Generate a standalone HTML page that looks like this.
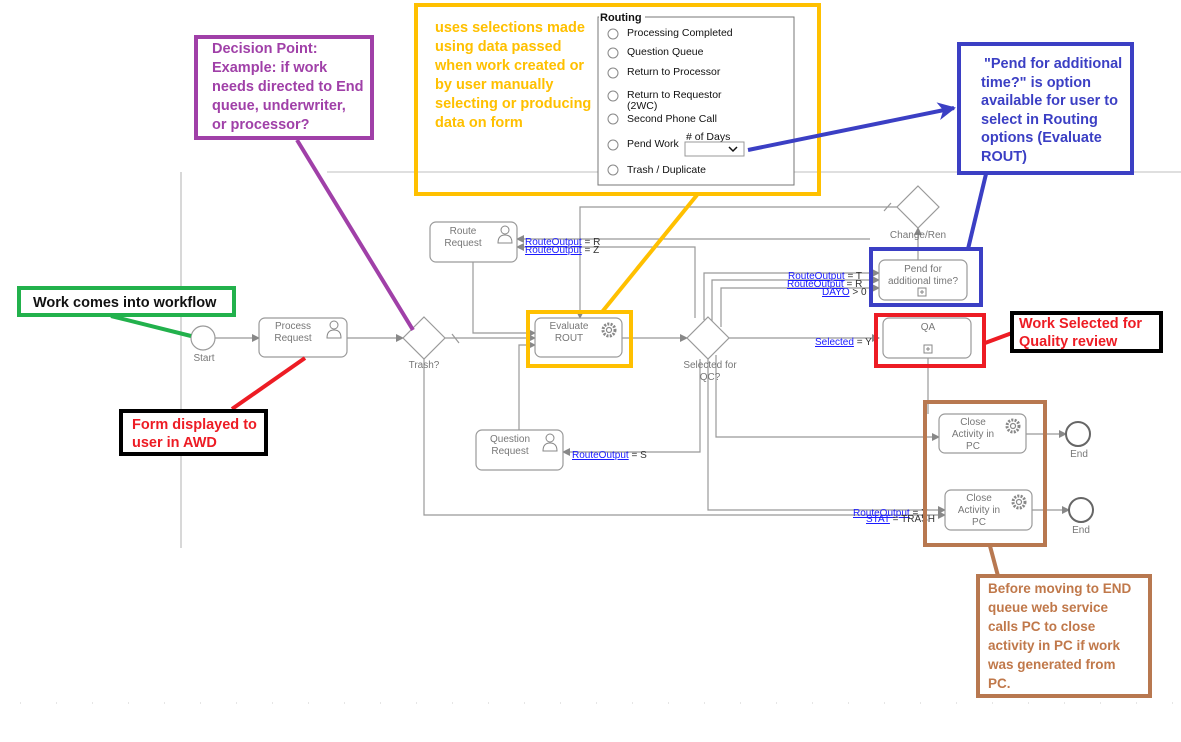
<!DOCTYPE html>
<html><head><meta charset="utf-8"><style>
html,body{margin:0;padding:0;background:#fff;}
svg{display:block;font-family:"Liberation Sans",sans-serif;}
.n{fill:#fff;stroke:#9a9a9a;stroke-width:1.2}
.c{fill:none;stroke:#999;stroke-width:1.2}
.t{font-size:10px;fill:#777;text-anchor:middle}
.lk{font-size:10px;fill:#1a1aff;text-decoration:underline}
.lb{font-size:10px;fill:#333}
.a{font-weight:bold;font-size:14.5px}
.b{font-weight:bold;font-size:13.5px}
.r{font-size:10.5px;fill:#111}
.rc{fill:#fff;stroke:#777;stroke-width:1}
</style></head><body>
<svg width="1181" height="742" viewBox="0 0 1181 742">
<defs>
<marker id="ar" markerWidth="8" markerHeight="8" refX="7" refY="4" orient="auto" markerUnits="userSpaceOnUse"><path d="M0,0 L8,4 L0,8z" fill="#888"/></marker>
<marker id="ab" markerWidth="20" markerHeight="20" refX="16" refY="10" orient="auto" markerUnits="userSpaceOnUse"><path d="M0,1 L18,10 L0,19 L5,10z" fill="#3b3fc4"/></marker>
</defs>
<line x1="181" y1="172" x2="181" y2="548" stroke="#ccc" stroke-width="1.5"/>
<line x1="327" y1="172" x2="1181" y2="172" stroke="#ccc" stroke-width="1.2"/>
<line x1="20" y1="703" x2="1181" y2="703" stroke="#ccc" stroke-width="1" stroke-dasharray="1,35"/>

<line class="c" x1="215" y1="338" x2="259" y2="338" marker-end="url(#ar)"/>
<line class="c" x1="347" y1="338" x2="403" y2="338" marker-end="url(#ar)"/>
<line class="c" x1="445" y1="338" x2="535" y2="338" marker-end="url(#ar)"/>
<line class="c" x1="452" y1="334" x2="459" y2="343"/>
<polyline class="c" points="424,359 424,515 945,515" marker-end="url(#ar)"/>
<polyline class="c" points="473,262 473,333 535,333" marker-end="url(#ar)"/>
<polyline class="c" points="519,430 519,345 535,345" marker-end="url(#ar)"/>
<line class="c" x1="622" y1="338" x2="687" y2="338" marker-end="url(#ar)"/>
<polyline class="c" points="897,207 580,207 580,318" marker-end="url(#ar)"/>
<line class="c" x1="884" y1="211" x2="891" y2="203"/>
<line class="c" x1="918" y1="260" x2="918" y2="228" marker-end="url(#ar)"/>
<polyline class="c" points="870,239 517,239" marker-end="url(#ar)"/>
<polyline class="c" points="695,318 695,247 517,247" marker-end="url(#ar)"/>
<polyline class="c" points="704,320 704,273 879,273" marker-end="url(#ar)"/>
<polyline class="c" points="712,323 712,280 879,280" marker-end="url(#ar)"/>
<polyline class="c" points="721,327 721,288 879,288" marker-end="url(#ar)"/>
<line class="c" x1="729" y1="338" x2="879" y2="338" marker-end="url(#ar)"/>
<polyline class="c" points="700,359 700,452 563,452" marker-end="url(#ar)"/>
<polyline class="c" points="716,355 716,437 939,437" marker-end="url(#ar)"/>
<polyline class="c" points="708,359 708,510 945,510" marker-end="url(#ar)"/>
<line class="c" x1="928" y1="358" x2="928" y2="414"/>
<line class="c" x1="1026" y1="434" x2="1066" y2="434" marker-end="url(#ar)"/>
<line class="c" x1="1032" y1="510" x2="1069" y2="510" marker-end="url(#ar)"/>

<circle cx="203" cy="338" r="12" class="n"/>
<text class="t" x="204" y="361">Start</text>
<rect class="n" x="259" y="318" width="88" height="39" rx="6"/>
<text class="t" x="293" y="329">Process</text><text class="t" x="293" y="341">Request</text>
<g fill="none" stroke="#888" stroke-width="1"><circle cx="334" cy="325" r="4"/><path d="M327,338 q0,-8 7,-8 q7,0 7,8z"/></g>
<polygon class="n" points="424,317 445,338 424,359 403,338"/>
<text class="t" x="424" y="368">Trash?</text>
<rect class="n" x="535" y="318" width="87" height="39" rx="6"/>
<text class="t" x="569" y="329">Evaluate</text><text class="t" x="569" y="341">ROUT</text>
<g fill="none" stroke="#888" stroke-width="1.2"><circle cx="609" cy="330" r="6" stroke-dasharray="2,1.3" stroke-width="3"/><circle cx="609" cy="330" r="2.5"/></g>
<polygon class="n" points="708,317 729,338 708,359 687,338"/>
<text class="t" x="710" y="368">Selected for</text><text class="t" x="710" y="380">QC?</text>
<rect class="n" x="430" y="222" width="87" height="40" rx="6"/>
<text class="t" x="463" y="234">Route</text><text class="t" x="463" y="246">Request</text>
<g fill="none" stroke="#888" stroke-width="1"><circle cx="505" cy="230" r="4"/><path d="M498,243 q0,-8 7,-8 q7,0 7,8z"/></g>
<rect class="n" x="476" y="430" width="87" height="40" rx="6"/>
<text class="t" x="510" y="442">Question</text><text class="t" x="510" y="454">Request</text>
<g fill="none" stroke="#888" stroke-width="1"><circle cx="550" cy="438" r="4"/><path d="M543,451 q0,-8 7,-8 q7,0 7,8z"/></g>
<polygon class="n" points="918,186 939,207 918,228 897,207"/>
<text class="t" x="918" y="238">Change/Ren</text>
<rect class="n" x="879" y="260" width="88" height="40" rx="6"/>
<text class="t" x="923" y="272">Pend for</text><text class="t" x="923" y="284">additional time?</text>
<rect x="918" y="288" width="8" height="8" fill="none" stroke="#888"/><path d="M922,290v4M920,292h4" stroke="#888"/>
<rect class="n" x="883" y="318" width="88" height="40" rx="6"/>
<text class="t" x="928" y="330">QA</text>
<rect x="924" y="345" width="8" height="8" fill="none" stroke="#888"/><path d="M928,347v4M926,349h4" stroke="#888"/>
<rect class="n" x="939" y="414" width="87" height="39" rx="6"/>
<text class="t" x="973" y="425">Close</text><text class="t" x="973" y="437">Activity in</text><text class="t" x="973" y="449">PC</text>
<g fill="none" stroke="#888" stroke-width="1.2"><circle cx="1013" cy="426" r="6" stroke-dasharray="2,1.3" stroke-width="3"/><circle cx="1013" cy="426" r="2.5"/></g>
<circle cx="1078" cy="434" r="12" fill="#fff" stroke="#666" stroke-width="2"/>
<text class="t" x="1079" y="457">End</text>
<rect class="n" x="945" y="490" width="87" height="40" rx="6"/>
<text class="t" x="979" y="501">Close</text><text class="t" x="979" y="513">Activity in</text><text class="t" x="979" y="525">PC</text>
<g fill="none" stroke="#888" stroke-width="1.2"><circle cx="1019" cy="502" r="6" stroke-dasharray="2,1.3" stroke-width="3"/><circle cx="1019" cy="502" r="2.5"/></g>
<circle cx="1081" cy="510" r="12" fill="#fff" stroke="#666" stroke-width="2"/>
<text class="t" x="1081" y="533">End</text>

<text x="525" y="245"><tspan class="lk">RouteOutput</tspan><tspan class="lb"> = R</tspan></text>
<text x="525" y="253"><tspan class="lk">RouteOutput</tspan><tspan class="lb"> = Z</tspan></text>
<text x="788" y="279"><tspan class="lk">RouteOutput</tspan><tspan class="lb"> = T</tspan></text>
<text x="787" y="287"><tspan class="lk">RouteOutput</tspan><tspan class="lb"> = R</tspan></text>
<text x="822" y="295"><tspan class="lk">DAYO</tspan><tspan class="lb"> &gt; 0</tspan></text>
<text x="815" y="345"><tspan class="lk">Selected</tspan><tspan class="lb"> = Y</tspan></text>
<text x="572" y="458"><tspan class="lk">RouteOutput</tspan><tspan class="lb"> = S</tspan></text>
<text x="853" y="516"><tspan class="lk">RouteOutput</tspan><tspan class="lb"> = X</tspan></text>
<text x="866" y="522"><tspan class="lk">STAT</tspan><tspan class="lb"> = TRASH</tspan></text>

<rect class="rc" x="598" y="17" width="196" height="168"/>
<rect x="599" y="11" width="46" height="10" fill="#fff"/>
<text x="600" y="21" style="font-size:11px;font-weight:bold;fill:#111">Routing</text>
<g fill="#fff" stroke="#888"><circle cx="613" cy="34" r="5"/><circle cx="613" cy="53" r="5"/><circle cx="613" cy="73" r="5"/><circle cx="613" cy="96" r="5"/><circle cx="613" cy="119" r="5"/><circle cx="613" cy="145" r="5"/><circle cx="613" cy="170" r="5"/></g>
<text class="r" x="627" y="36">Processing Completed</text>
<text class="r" x="627" y="55">Question Queue</text>
<text class="r" x="627" y="75">Return to Processor</text>
<text class="r" x="627" y="98">Return to Requestor</text>
<text class="r" x="627" y="109">(2WC)</text>
<text class="r" x="627" y="122">Second Phone Call</text>
<text class="r" x="627" y="147">Pend Work</text>
<text class="r" x="686" y="140">&#35; of Days</text>
<rect x="685" y="142" width="59" height="14" fill="#fff" stroke="#999"/>
<path d="M729,147 l4,4 l4,-4" fill="none" stroke="#111" stroke-width="1.5"/>
<text class="r" x="627" y="173">Trash / Duplicate</text>

<rect x="416" y="5" width="403" height="189" fill="none" stroke="#ffc000" stroke-width="4"/>
<g class="a" fill="#ffc000">
<text x="435" y="32">uses selections made</text><text x="435" y="51">using data passed</text><text x="435" y="70">when work created or</text><text x="435" y="89">by user manually</text><text x="435" y="108">selecting or producing</text><text x="435" y="127">data on form</text></g>
<line x1="697" y1="195" x2="602" y2="312" stroke="#ffc000" stroke-width="4"/>
<rect x="528" y="312" width="103" height="54" fill="none" stroke="#ffc000" stroke-width="4"/>

<rect x="196" y="37" width="176" height="101" fill="none" stroke="#a040a8" stroke-width="4"/>
<g class="a" fill="#a040a8">
<text x="212" y="53">Decision Point:</text><text x="212" y="72">Example: if work</text><text x="212" y="91">needs directed to End</text><text x="212" y="110">queue, underwriter,</text><text x="212" y="129">or processor?</text></g>
<line x1="297" y1="140" x2="413" y2="330" stroke="#a040a8" stroke-width="4"/>

<rect x="959" y="44" width="173" height="129" fill="none" stroke="#3b3fc4" stroke-width="4"/>
<g class="a" fill="#3b3fc4">
<text x="984" y="68">"Pend for additional</text><text x="981" y="87">time?"  is option</text><text x="981" y="105">available for user to</text><text x="981" y="124">select in Routing</text><text x="981" y="142">options (Evaluate</text><text x="981" y="161">ROUT)</text></g>
<line x1="748" y1="150" x2="954" y2="108" stroke="#3b3fc4" stroke-width="4" marker-end="url(#ab)"/>
<line x1="986" y1="174" x2="968" y2="249" stroke="#3b3fc4" stroke-width="4"/>
<rect x="871" y="249" width="110" height="56" fill="none" stroke="#3b3fc4" stroke-width="4"/>

<rect x="19" y="288" width="215" height="27" fill="#fff" stroke="#22b14c" stroke-width="4"/>
<text class="a" x="33" y="307" fill="#111">Work comes into workflow</text>
<line x1="111" y1="316" x2="191" y2="336" stroke="#22b14c" stroke-width="4"/>

<line x1="305" y1="358" x2="232" y2="409" stroke="#ed1c24" stroke-width="4"/>
<rect x="121" y="411" width="145" height="43" fill="#fff" stroke="#000" stroke-width="4"/>
<g class="a" fill="#ed1c24"><text x="132" y="429">Form displayed to</text><text x="132" y="447">user in AWD</text></g>

<rect x="876" y="315" width="108" height="51" fill="none" stroke="#ed1c24" stroke-width="4"/>
<line x1="985" y1="343" x2="1012" y2="333" stroke="#ed1c24" stroke-width="4"/>
<rect x="1012" y="313" width="149" height="38" fill="#fff" stroke="#000" stroke-width="4"/>
<g class="a" fill="#ed1c24"><text x="1019" y="328">Work Selected for</text><text x="1019" y="346">Quality review</text></g>

<rect x="925" y="402" width="120" height="143" fill="none" stroke="#b87850" stroke-width="4"/>
<line x1="990" y1="546" x2="998" y2="576" stroke="#b87850" stroke-width="4"/>
<rect x="978" y="576" width="172" height="120" fill="#fff" stroke="#b87850" stroke-width="4"/>
<g class="b" fill="#c0784a"><text x="988" y="593">Before moving to END</text><text x="988" y="612">queue web service</text><text x="988" y="631">calls PC to close</text><text x="988" y="650">activity in PC if work</text><text x="988" y="669">was generated from</text><text x="988" y="688">PC.</text></g>
</svg>
</body></html>
